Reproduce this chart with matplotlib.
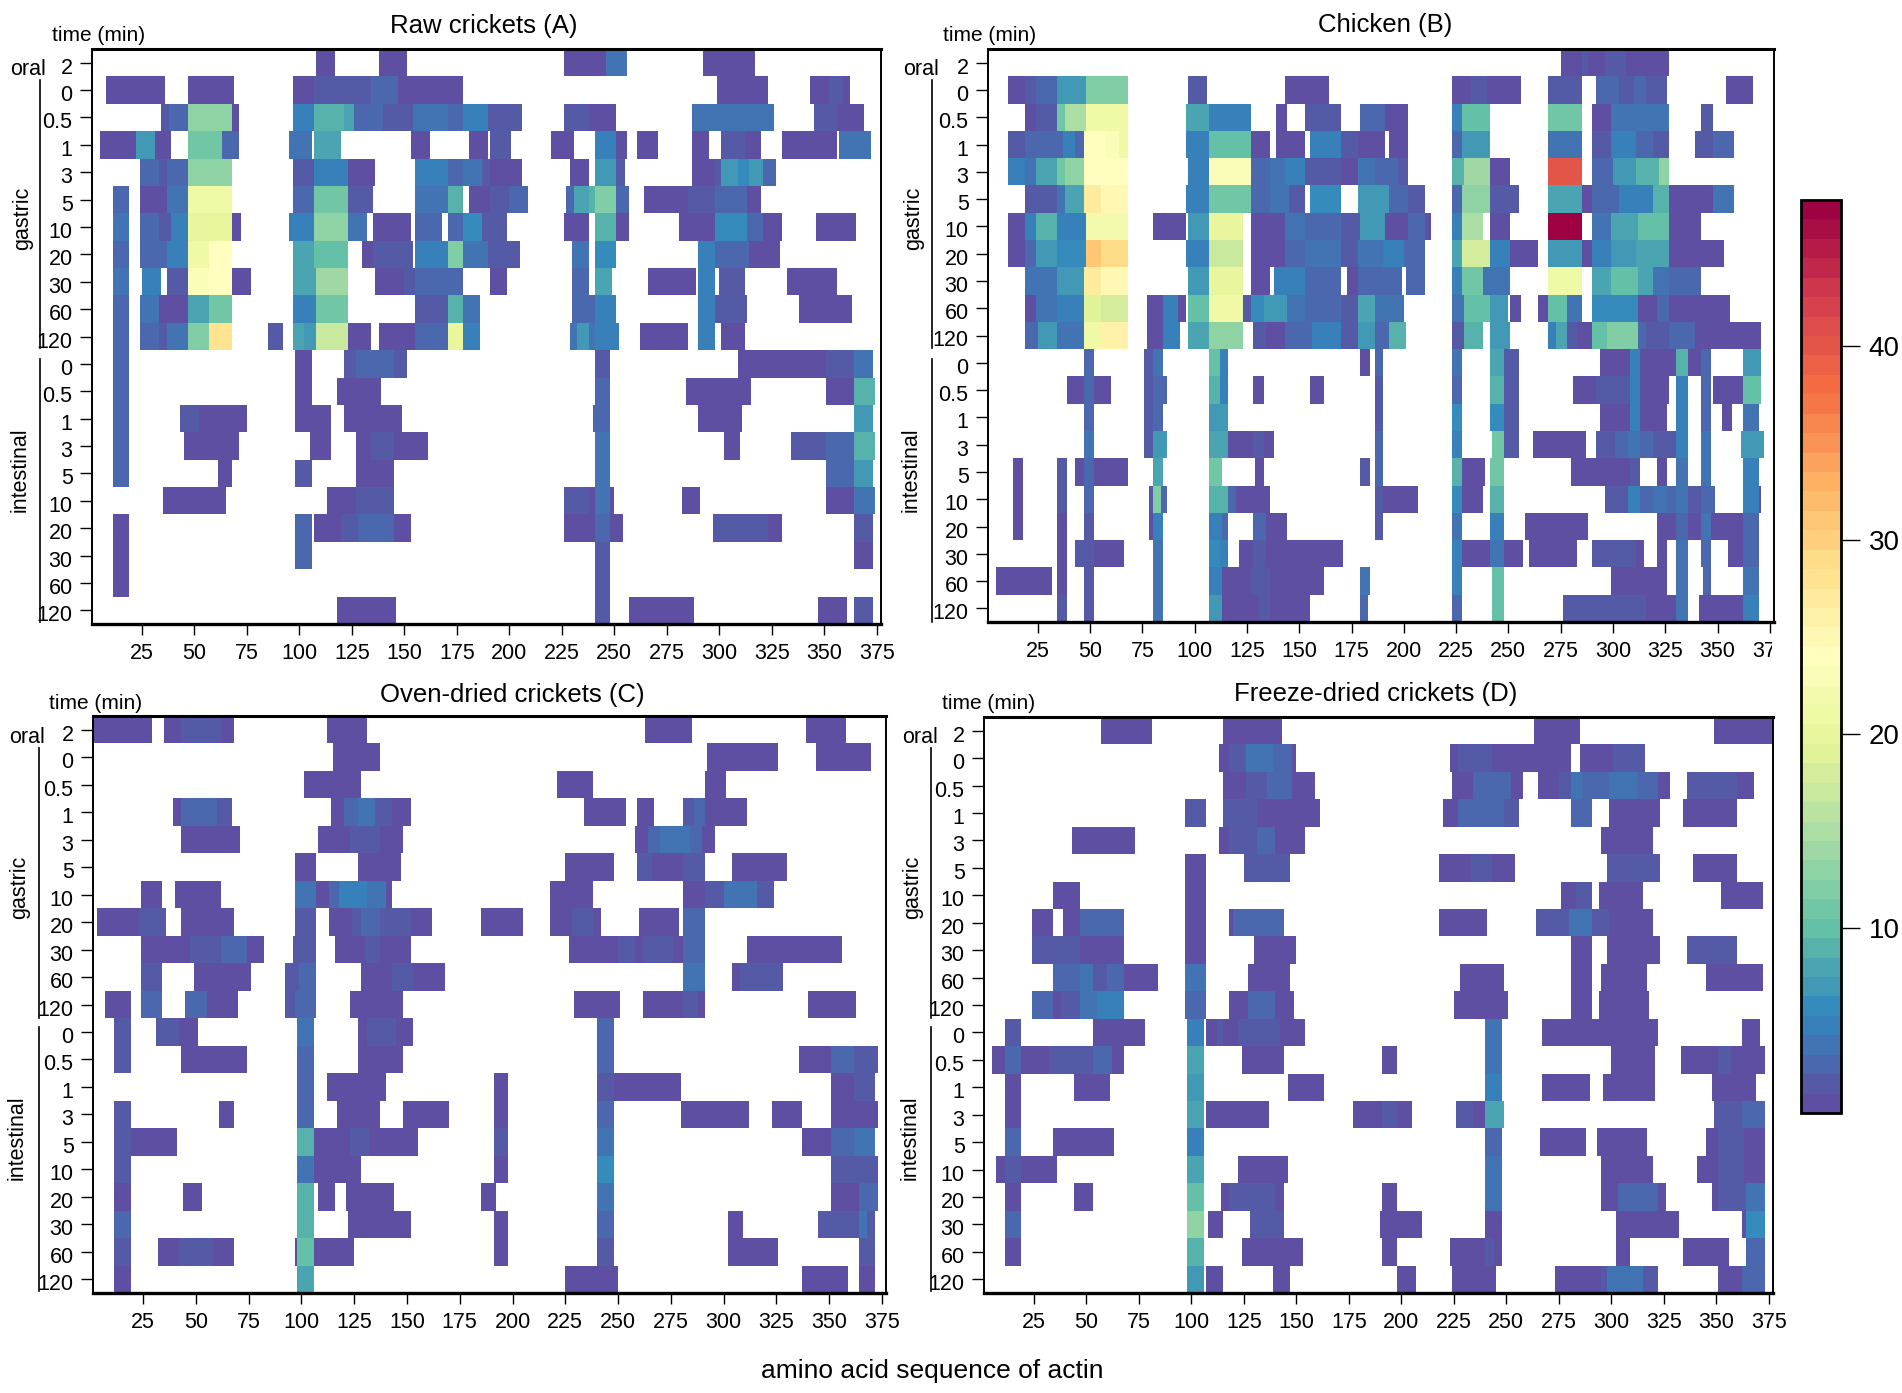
import numpy as np
import matplotlib
matplotlib.use("Agg")
import matplotlib.pyplot as plt
from matplotlib.colors import ListedColormap, BoundaryNorm
from matplotlib.cm import ScalarMappable
from matplotlib.transforms import ScaledTranslation, Bbox
from matplotlib.lines import Line2D

W, H = 1902, 1393
narrow = ['Liberation Sans Narrow', 'Liberation Sans', 'DejaVu Sans']
regular = ['Liberation Sans', 'DejaVu Sans']

time_labels = ['2', '0', '0.5', '1', '3', '5', '10', '20', '30', '60', '120',
               '0', '0.5', '1', '3', '5', '10', '20', '30', '60', '120']
x_ticks = list(range(25, 376, 25))
cbar_ticks = [10, 20, 30, 40]

# each row: (first residue, end residue, intensity)
raw_rows = [
 [(108,117,1),(138,151,1),(226,246,1),(246,256,4),(292,317,1)],
 [(8,36,1),(47,69,1),(97,107,1),(107,125,2),(125,134,2),(134,147,3),(147,178,1),(299,323,1),(343,352,1),(352,359,2),(359,362,1)],
 [(34,38,2),(38,47,3),(47,68,13),(68,71,1),(97,107,5),(107,121,9),(121,126,8),(126,140,3),(140,154,2),(154,171,4),(171,178,3),(178,190,5),(190,206,2),(226,238,2),(238,251,1),(287,300,4),(300,326,4),(345,356,2),(356,369,1)],
 [(5,22,1),(22,31,7),(31,39,1),(47,63,11),(63,71,3),(95,106,4),(107,120,8),(153,162,1),(181,190,1),(191,201,2),(220,231,1),(241,251,5),(251,256,1),(261,271,1),(287,295,1),(301,312,2),(312,320,1),(330,356,1),(357,372,4)],
 [(24,33,3),(33,37,2),(37,47,3),(47,68,13),(97,107,2),(107,123,5),(123,136,1),(155,171,5),(171,178,3),(178,187,4),(187,191,2),(191,206,1),(229,238,1),(241,251,7),(251,255,2),(287,298,1),(298,301,2),(301,309,7),(309,314,6),(314,321,7),(321,327,3)],
 [(11,19,3),(24,37,1),(37,47,4),(47,68,21),(97,107,3),(107,123,11),(123,135,2),(155,171,4),(171,178,9),(181,191,1),(191,200,2),(200,209,3),(227,231,3),(231,238,8),(238,241,9),(241,251,12),(251,257,3),(264,285,1),(285,298,2),(298,313,3),(313,320,1)],
 [(11,19,4),(24,33,3),(33,39,2),(39,47,5),(47,68,20),(68,72,1),(95,107,5),(107,123,13),(123,132,4),(135,153,1),(155,168,3),(171,178,3),(178,187,6),(187,199,2),(226,238,1),(241,251,9),(251,257,1),(281,298,1),(298,313,6),(313,321,3),(321,330,1),(346,365,1)],
 [(11,19,3),(24,37,3),(37,47,5),(47,57,21),(57,68,24),(97,107,8),(107,123,10),(130,135,1),(135,154,2),(155,171,5),(171,178,12),(178,190,4),(190,205,2),(230,238,4),(241,251,6),(290,298,5),(298,314,3),(314,329,1)],
 [(11,19,4),(25,34,5),(37,47,2),(47,57,23),(57,68,24),(68,77,1),(97,108,8),(108,123,14),(136,150,1),(150,155,2),(155,178,3),(191,199,1),(230,238,3),(241,249,8),(266,289,1),(290,298,5),(300,312,2),(332,356,1)],
 [(11,19,3),(24,33,4),(33,47,1),(47,57,8),(57,68,11),(97,108,5),(108,123,11),(155,171,2),(171,178,9),(178,186,4),(230,241,3),(241,251,5),(290,298,5),(298,313,2),(338,363,1)],
 [(11,19,3),(24,33,3),(33,37,2),(37,47,4),(47,57,12),(57,68,28),(85,92,2),(97,102,8),(102,108,7),(108,123,17),(123,134,1),(138,155,1),(155,171,3),(171,178,20),(178,186,5),(229,232,4),(232,238,7),(238,241,4),(241,252,5),(262,285,1),(290,298,5),(301,312,1)],
 [(11,19,3),(98,106,1),(121,127,2),(127,145,3),(145,151,2),(241,248,2),(309,339,1),(339,351,1),(351,364,2),(364,373,4)],
 [(11,19,3),(98,106,1),(118,139,1),(241,248,3),(284,315,1),(351,364,1),(364,374,9)],
 [(11,19,3),(43,52,2),(52,75,1),(98,106,1),(106,115,1),(121,149,1),(240,248,3),(290,311,1),(364,373,7)],
 [(11,19,3),(45,71,1),(105,115,1),(127,134,1),(134,145,2),(145,161,1),(241,248,4),(302,310,1),(334,351,2),(351,364,3),(364,374,9)],
 [(11,19,3),(61,68,1),(98,106,2),(127,145,1),(241,248,4),(351,364,3),(364,373,7)],
 [(35,65,1),(113,127,1),(127,145,2),(226,238,2),(238,241,1),(241,248,4),(248,250,1),(282,291,1),(351,364,1),(364,374,4)],
 [(11,19,1),(98,106,3),(107,120,1),(120,128,2),(128,145,3),(145,153,1),(226,241,1),(241,248,3),(248,254,1),(297,323,2),(323,330,1),(364,373,2)],
 [(11,19,1),(98,106,3),(241,248,2),(364,373,1)],
 [(11,19,1),(241,248,2)],
 [(118,146,1),(241,248,2),(257,288,1),(347,361,1),(364,373,2)],
]

chicken_rows = [
 [(275,285,1),(285,288,2),(288,296,1),(296,306,2),(306,327,1)],
 [(11,19,1),(19,24,2),(24,34,3),(34,48,7),(48,68,12),(97,106,2),(143,164,1),(223,232,1),(232,240,2),(240,256,1),(269,285,2),(292,303,3),(303,310,2),(310,316,3),(316,326,2),(354,367,1)],
 [(19,24,1),(24,34,2),(34,38,11),(38,48,15),(48,68,21),(96,107,8),(107,127,5),(139,144,1),(153,170,2),(179,191,3),(191,202,1),(223,228,5),(228,241,10),(269,285,11),(290,299,1),(299,327,4),(342,348,2)],
 [(11,19,2),(19,37,3),(37,43,5),(43,47,3),(47,57,24),(57,64,23),(64,68,21),(96,107,5),(107,127,10),(127,136,1),(139,153,1),(155,170,5),(170,178,2),(178,191,1),(193,202,1),(223,228,3),(228,241,7),(269,285,4),(290,299,2),(299,311,5),(311,319,3),(319,327,2),(339,348,2),(348,358,3)],
 [(11,19,5),(19,24,4),(24,34,8),(34,38,11),(38,47,13),(47,68,24),(97,107,5),(107,127,23),(127,136,3),(136,143,4),(143,153,5),(153,170,2),(170,178,1),(178,186,4),(186,197,3),(197,202,2),(223,229,9),(229,241,14),(241,251,1),(269,285,40),(290,300,3),(300,311,7),(311,322,9),(322,327,13)],
 [(19,34,2),(34,38,4),(38,47,8),(47,55,27),(55,68,25),(96,107,5),(107,127,11),(127,136,3),(136,145,4),(145,153,2),(155,170,6),(178,193,7),(193,202,3),(202,210,2),(223,228,3),(228,241,13),(241,255,2),(269,285,8),(285,290,1),(290,303,3),(303,319,5),(319,327,9),(327,348,1),(348,358,4)],
 [(11,19,1),(19,24,5),(24,34,9),(34,48,5),(48,68,22),(80,96,1),(97,107,7),(107,123,20),(127,143,1),(143,153,4),(153,170,3),(170,179,2),(179,191,7),(191,202,1),(202,210,3),(210,213,1),(223,228,5),(228,238,15),(241,251,1),(269,285,47),(290,299,4),(299,312,8),(312,327,10),(327,342,1)],
 [(11,19,1),(19,24,3),(24,34,7),(34,48,6),(48,55,31),(55,68,29),(96,107,5),(107,123,17),(127,143,1),(143,153,3),(153,170,4),(170,178,2),(178,190,4),(190,200,5),(200,210,3),(223,228,8),(228,241,18),(241,251,5),(251,264,1),(269,285,7),(285,290,1),(290,299,5),(299,311,7),(311,327,8),(327,353,1)],
 [(19,34,4),(34,47,7),(47,55,27),(55,68,25),(97,107,7),(107,123,20),(127,136,1),(138,153,5),(153,170,3),(173,178,1),(178,199,3),(201,210,3),(223,228,5),(228,238,11),(238,251,4),(269,285,21),(290,299,8),(299,312,10),(312,319,8),(319,327,4),(327,342,3)],
 [(19,24,1),(24,34,4),(34,47,5),(47,55,19),(55,68,18),(77,85,1),(85,92,5),(92,96,1),(97,107,10),(107,123,21),(123,127,2),(127,133,6),(133,144,7),(144,153,4),(153,170,3),(170,178,2),(178,186,8),(186,191,4),(191,200,4),(223,229,4),(229,241,10),(241,250,7),(251,256,1),(264,269,1),(269,278,10),(278,285,4),(290,300,6),(300,312,6),(312,321,1),(321,327,3),(327,339,1),(339,356,1)],
 [(19,25,3),(25,34,7),(34,47,4),(47,55,21),(55,68,26),(77,85,1),(85,93,5),(97,107,8),(107,123,13),(128,134,2),(134,143,1),(143,156,3),(156,170,5),(170,178,2),(178,186,7),(186,193,3),(193,201,9),(223,229,2),(229,238,9),(241,251,7),(269,273,5),(273,278,8),(278,283,2),(283,290,1),(290,297,10),(297,312,12),(312,316,3),(316,327,2),(327,339,3),(339,371,1)],
 [(47,52,3),(76,80,2),(80,85,4),(107,112,10),(112,116,5),(179,184,1),(186,190,3),(223,228,4),(241,248,8),(248,255,2),(294,308,1),(308,313,5),(313,330,1),(330,336,9),(336,342,1),(342,347,3),(362,371,7)],
 [(39,47,1),(47,52,3),(52,60,1),(76,80,2),(80,87,3),(107,112,9),(112,116,5),(128,133,1),(155,162,1),(186,190,2),(223,228,3),(241,248,9),(248,255,2),(281,292,1),(292,308,2),(308,313,5),(313,327,1),(330,336,5),(342,347,3),(348,362,1),(362,371,10)],
 [(47,52,3),(76,80,2),(80,85,3),(107,116,7),(186,190,2),(223,228,6),(241,248,6),(248,255,2),(294,308,1),(308,313,5),(313,326,1),(330,336,5),(342,347,3),(352,357,1),(362,370,4)],
 [(47,52,4),(76,80,2),(80,87,7),(107,116,8),(116,128,1),(128,133,2),(133,138,1),(186,190,3),(223,228,5),(242,248,11),(248,255,2),(262,287,1),(292,301,2),(301,307,3),(307,313,4),(313,319,3),(319,330,2),(330,336,5),(342,347,4),(361,372,7)],
 [(13,18,1),(34,39,2),(43,47,1),(47,52,3),(52,68,1),(80,85,8),(107,113,11),(129,133,1),(179,184,2),(186,190,3),(223,228,9),(228,239,1),(241,248,11),(280,308,1),(308,313,2),(321,326,1),(330,336,4),(342,347,4),(362,370,5)],
 [(13,18,1),(34,39,2),(47,52,3),(78,80,2),(80,84,12),(84,87,3),(107,116,9),(116,120,3),(120,136,1),(186,190,2),(190,207,1),(223,228,6),(228,238,1),(241,248,9),(296,307,2),(307,313,5),(313,319,3),(319,326,4),(326,330,3),(330,336,4),(336,342,2),(342,349,3),(362,370,5),(370,371,1)],
 [(13,18,1),(34,39,1),(47,52,2),(78,80,1),(80,85,5),(107,113,5),(113,116,3),(128,134,3),(134,144,1),(186,190,2),(223,228,4),(241,248,5),(258,288,1),(321,330,1),(330,336,3),(336,342,1),(342,347,4),(347,362,1),(362,370,3)],
 [(34,39,1),(43,47,2),(47,52,2),(52,66,1),(80,85,4),(107,112,6),(112,116,5),(121,128,1),(128,134,2),(134,171,1),(223,228,5),(228,241,1),(241,248,4),(248,257,1),(260,283,1),(290,311,2),(311,315,1),(321,326,1),(330,336,4),(342,347,3),(355,362,1),(362,370,3)],
 [(5,32,1),(34,39,1),(47,52,2),(80,85,4),(107,113,5),(113,127,1),(127,136,2),(136,162,1),(179,184,4),(223,228,5),(242,248,10),(299,326,1),(330,336,4),(343,347,3),(362,370,4)],
 [(34,39,2),(47,52,2),(80,85,4),(107,113,7),(113,131,1),(131,136,2),(136,155,1),(179,183,3),(223,228,3),(242,248,10),(276,308,2),(308,316,2),(316,330,1),(330,336,4),(341,362,1),(362,370,5)],
]

oven_rows = [
 [(1,29,1),(35,43,1),(43,62,2),(62,68,1),(112,131,1),(263,285,1),(339,358,1)],
 [(115,137,1),(292,326,1),(344,370,1)],
 [(101,128,1),(221,238,1),(291,301,1)],
 [(39,43,1),(43,60,3),(60,67,2),(114,120,1),(120,127,3),(127,135,4),(135,143,2),(143,152,1),(234,254,1),(259,267,1),(281,286,2),(286,291,3),(291,311,1)],
 [(43,71,1),(108,123,1),(123,137,2),(137,148,1),(258,264,1),(264,270,3),(270,284,4),(284,290,3),(290,296,1)],
 [(97,107,1),(127,147,1),(225,248,1),(259,266,2),(266,281,1),(281,291,2),(304,330,1)],
 [(24,34,1),(40,62,1),(97,107,4),(107,113,1),(113,118,3),(118,131,5),(131,140,4),(140,143,1),(218,238,1),(281,291,1),(291,300,2),(300,316,4),(316,324,2)],
 [(3,23,1),(23,36,2),(43,68,1),(97,107,2),(113,124,1),(124,128,2),(128,137,3),(137,152,2),(152,162,1),(185,205,1),(218,228,1),(228,238,2),(238,242,1),(260,279,1),(281,291,3)],
 [(24,47,1),(47,62,2),(62,74,3),(74,82,1),(96,107,2),(116,130,1),(130,137,2),(137,152,1),(227,250,1),(250,258,2),(258,262,1),(262,276,2),(276,281,1),(281,291,3),(311,356,1)],
 [(24,34,2),(49,76,1),(92,99,2),(99,107,3),(128,143,1),(143,153,2),(153,168,1),(281,291,4),(304,308,1),(308,328,2)],
 [(7,19,1),(24,34,3),(45,55,3),(55,70,1),(92,97,2),(97,107,3),(123,148,1),(229,251,1),(262,281,1),(281,288,2),(288,291,1),(340,363,1)],
 [(11,19,2),(31,42,2),(42,51,1),(98,106,4),(127,131,1),(131,145,2),(145,153,1),(240,248,3)],
 [(11,19,2),(43,74,1),(98,106,3),(127,148,1),(240,248,3),(336,351,1),(351,362,3),(362,373,2)],
 [(98,106,3),(112,140,1),(191,198,1),(240,248,2),(248,280,1),(351,362,1),(362,372,2)],
 [(11,19,2),(61,68,1),(98,106,3),(117,137,1),(148,170,1),(191,198,1),(240,248,3),(280,312,1),(323,337,1),(351,373,1)],
 [(11,19,2),(19,41,1),(98,106,9),(106,123,1),(123,132,2),(132,155,1),(191,198,2),(240,248,4),(337,351,1),(351,362,3),(362,372,4)],
 [(11,19,2),(98,106,4),(106,128,1),(191,198,1),(240,248,6),(351,373,2)],
 [(11,19,1),(44,53,1),(98,106,9),(108,116,1),(121,144,1),(185,192,1),(240,248,4),(351,364,1),(364,373,3)],
 [(11,19,3),(98,106,9),(122,152,1),(191,198,1),(240,248,3),(302,309,1),(345,364,2),(364,368,4),(368,372,2)],
 [(11,19,2),(32,42,1),(42,58,2),(58,68,1),(97,98,1),(98,106,10),(106,125,1),(191,198,1),(240,248,2),(302,326,1),(364,372,2)],
 [(11,19,1),(98,106,8),(225,250,1),(337,359,1),(364,372,1)],
]

freeze_rows = [
 [(57,81,1),(115,143,1),(263,285,1),(349,377,1)],
 [(113,118,1),(118,126,2),(126,139,4),(139,148,3),(148,150,1),(223,227,1),(227,243,2),(243,260,1),(260,281,1),(285,301,1),(301,316,2)],
 [(115,126,1),(126,136,2),(136,148,3),(148,159,1),(224,234,1),(234,252,3),(252,258,1),(265,275,1),(275,281,2),(281,286,4),(286,292,3),(292,299,3),(299,312,4),(312,322,3),(322,328,1),(336,360,2),(360,368,1)],
 [(97,107,2),(115,131,2),(131,134,1),(134,161,1),(220,227,1),(227,249,3),(249,256,2),(281,291,3),(299,323,1),(334,360,1)],
 [(43,73,1),(113,118,1),(118,131,2),(131,140,3),(140,154,1),(295,320,1)],
 [(97,107,1),(125,147,2),(218,233,1),(233,243,2),(243,254,1),(298,323,2),(339,360,1)],
 [(34,47,1),(97,107,1),(276,283,1),(283,291,2),(294,315,1),(352,372,1)],
 [(24,34,1),(39,47,1),(47,68,3),(97,107,1),(118,120,1),(120,144,3),(218,241,1),(264,280,2),(280,291,4),(291,299,2),(299,320,1)],
 [(24,47,2),(47,68,1),(97,107,1),(130,150,1),(281,291,1),(298,323,1),(336,360,2)],
 [(34,47,3),(47,53,4),(53,60,2),(60,68,3),(68,84,1),(97,107,4),(127,147,1),(228,249,1),(281,291,1),(295,317,1),(345,372,1)],
 [(24,34,3),(34,38,1),(38,47,2),(47,55,4),(55,68,5),(97,107,3),(118,127,1),(127,140,3),(140,149,1),(225,251,1),(281,291,1),(294,318,1)],
 [(11,19,2),(53,60,1),(60,78,1),(98,106,5),(107,112,1),(112,115,2),(115,122,1),(122,142,2),(142,154,1),(240,248,4),(267,322,1),(362,371,1)],
 [(5,11,1),(11,19,3),(19,32,1),(32,53,2),(53,62,3),(62,68,1),(98,106,8),(124,144,1),(191,198,1),(240,248,4),(300,321,1),(333,351,1),(351,357,2),(357,373,1)],
 [(11,19,1),(44,61,1),(98,106,7),(146,163,1),(240,248,5),(267,290,1),(296,321,1),(348,369,1)],
 [(11,19,1),(98,106,8),(107,137,1),(177,191,1),(191,198,2),(198,205,1),(226,234,2),(234,240,1),(240,249,8),(349,362,2),(362,373,3)],
 [(11,19,3),(34,63,1),(98,106,5),(240,248,3),(266,288,1),(293,317,1),(345,351,1),(351,363,2),(363,373,1)],
 [(7,11,1),(11,19,2),(19,36,1),(98,106,8),(122,146,1),(240,248,4),(295,320,1),(341,351,1),(351,363,2),(363,373,1)],
 [(11,19,1),(44,53,1),(98,106,10),(114,118,1),(118,140,2),(140,144,1),(191,198,1),(240,248,4),(295,303,1),(303,322,3),(322,326,1),(348,351,1),(351,364,2),(364,373,4)],
 [(11,19,3),(98,106,13),(108,115,1),(128,144,2),(190,210,1),(240,248,1),(302,332,1),(362,364,1),(364,373,6)],
 [(11,19,1),(98,106,9),(124,153,1),(191,198,1),(223,240,1),(240,244,2),(244,248,1),(302,309,1),(334,356,1),(364,373,3)],
 [(98,106,7),(107,115,1),(139,147,1),(198,207,1),(224,245,1),(273,295,1),(295,298,2),(298,315,4),(315,322,2),(351,362,1),(362,373,3)],
]

levels = 47
cmap = ListedColormap(plt.get_cmap('Spectral_r')(np.linspace(0, 1, levels)))
cmap.set_bad('white')
norm = BoundaryNorm(np.arange(0.5, levels + 1.5), levels)


def frac_box(l, t, r, b):
    return [l / W, 1 - b / H, (r - l) / W, (b - t) / H]


def fig_text(x, y, s, **kw):
    return fig.text(x / W, 1 - y / H, s, **kw)


def matrix(rows):
    m = np.full((len(rows), 376), np.nan)
    for i, row in enumerate(rows):
        for s, e, v in row:
            m[i, s - 1:e - 1] = v
    return m


fig = plt.figure(figsize=(W / 100, H / 100), dpi=100, facecolor='white')

panels = [
 dict(rows=raw_rows, box=(92, 49, 881, 624), title='Raw crickets (A)', tx=484, ty=33,
      tm=(99, 41), oral=(28, 75), bx=40, g=(80, 348), i=(359, 622), gl=(23, 218), il=(20, 470)),
 dict(rows=chicken_rows, box=(988, 49, 1774, 622), title='Chicken (B)', tx=1385, ty=32,
      tm=(990, 41), oral=(921, 75), bx=932, g=(80, 348), i=(359, 622), gl=(914, 218), il=(911, 470), clip=True),
 dict(rows=oven_rows, box=(93, 716, 886, 1293), title='Oven-dried crickets (C)', tx=512, ty=702,
      tm=(96, 709), oral=(27, 743), bx=38.5, g=(748, 1018), i=(1027, 1291), gl=(20, 887), il=(17, 1138)),
 dict(rows=freeze_rows, box=(984, 717, 1773, 1293), title='Freeze-dried crickets (D)', tx=1376, ty=701,
      tm=(989, 709), oral=(920, 743), bx=931, g=(748, 1018), i=(1027, 1291), gl=(913, 887), il=(910, 1138)),
]

for p in panels:
    ax = fig.add_axes(frac_box(*p['box']))
    m = matrix(p['rows'])
    n = len(p['rows'])
    ax.pcolormesh(np.arange(1, 378), np.arange(n + 1), np.ma.masked_invalid(m),
                  cmap=cmap, norm=norm, shading='flat', linewidth=0, rasterized=True)
    ax.set_xlim(1.2, 377)
    ax.set_ylim(n, 0)
    ax.set_xticks(x_ticks)
    ax.set_xticklabels([str(t) for t in x_ticks], fontfamily=narrow, fontsize=15.5)
    ax.set_yticks(np.arange(n) + 0.5)
    ax.set_yticklabels(time_labels, fontfamily=narrow, fontsize=15.5)
    ax.tick_params(axis='x', length=8, width=1.0, pad=6)
    ax.tick_params(axis='y', length=9, width=1.0, pad=5)
    for name, w in dict(top=2.2, bottom=2.4, left=1.4, right=1.4).items():
        ax.spines[name].set_linewidth(w)
    off = ScaledTranslation(0, -3 / 100, fig.dpi_scale_trans)
    for lab in ax.get_yticklabels():
        lab.set_transform(lab.get_transform() + off)
    if p.get('clip'):
        l, t, r, b = p['box']
        lab = ax.get_xticklabels()[-1]
        lab.set_clip_box(Bbox([[0, 0], [r - 2, H]]))
        lab.set_clip_on(True)
    fig_text(p['tx'], p['ty'], p['title'], ha='center', va='baseline', fontfamily=narrow, fontsize=18.5)
    fig_text(p['tm'][0], p['tm'][1], 'time (min)', ha='center', va='baseline', fontfamily=narrow, fontsize=15)
    fig_text(p['oral'][0], p['oral'][1], 'oral', ha='center', va='baseline', fontfamily=narrow, fontsize=15.5)
    fig_text(p['gl'][0], p['gl'][1], 'gastric', rotation=90, ha='center', va='center', fontfamily=regular, fontsize=15.5)
    fig_text(p['il'][0], p['il'][1], 'intestinal', rotation=90, ha='center', va='center', fontfamily=regular, fontsize=15.5)
    for seg in (p['g'], p['i']):
        fig.add_artist(Line2D([p['bx'] / W] * 2, [1 - seg[0] / H, 1 - seg[1] / H],
                              color='black', linewidth=1.2))

fig_text(932, 1378, 'amino acid sequence of actin', ha='center', va='baseline', fontfamily=narrow, fontsize=19)

cax = fig.add_axes(frac_box(1801, 200, 1841, 1113))
cb = fig.colorbar(ScalarMappable(norm=norm, cmap=cmap), cax=cax, ticks=cbar_ticks, spacing='proportional', drawedges=False)
cb.outline.set_linewidth(2)
cb.ax.tick_params(length=14, width=1.0, pad=6)
cb.ax.minorticks_off()
for lab in cb.ax.get_yticklabels():
    lab.set_fontfamily(regular)
    lab.set_fontsize(20)

fig.savefig('out.png', dpi=100, facecolor='white')
